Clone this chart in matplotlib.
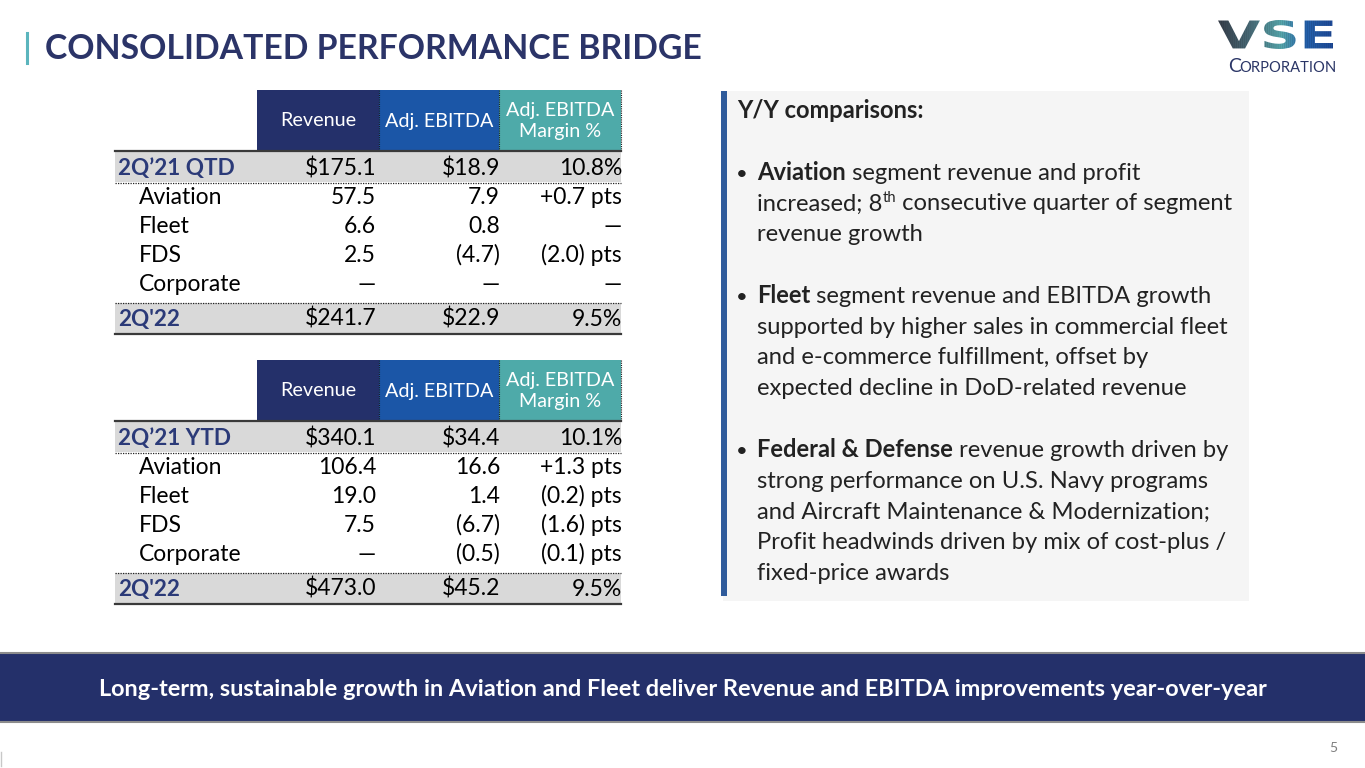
import numpy as np
import matplotlib.pyplot as plt
from matplotlib.textpath import TextPath
from matplotlib.font_manager import FontProperties
from matplotlib.patches import PathPatch
from matplotlib.transforms import Affine2D

plt.rcParams['font.family'] = ['Lato', 'DejaVu Sans']

# ---- data ----
col_headers = ["Revenue", "Adj. EBITDA", "Adj. EBITDA\nMargin %"]

qtd_labels = ["2Q\u201921 QTD", "Aviation", "Fleet", "FDS", "Corporate", "2Q'22"]
qtd_revenue = ["$175.1", "57.5", "6.6", "2.5", "\u2014", "$241.7"]
qtd_ebitda = ["$18.9", "7.9", "0.8", "(4.7)", "\u2014", "$22.9"]
qtd_margin = ["10.8%", "+0.7 pts", "\u2014", "(2.0) pts", "\u2014", "9.5%"]

ytd_labels = ["2Q\u201921 YTD", "Aviation", "Fleet", "FDS", "Corporate", "2Q'22"]
ytd_revenue = ["$340.1", "106.4", "19.0", "7.5", "\u2014", "$473.0"]
ytd_ebitda = ["$34.4", "16.6", "1.4", "(6.7)", "(0.5)", "$45.2"]
ytd_margin = ["10.1%", "+1.3 pts", "(0.2) pts", "(1.6) pts", "(0.1) pts", "9.5%"]

panel_lines = [
    [("Y/Y comparisons:", "bold")],
    [],
    [("Aviation", "bold"), (" segment revenue and profit", "normal")],
    [("increased; 8", "normal"), ("th", "sup"), (" consecutive quarter of segment", "normal")],
    [("revenue growth", "normal")],
    [],
    [("Fleet", "bold"), (" segment revenue and EBITDA growth", "normal")],
    [("supported by higher sales in commercial fleet", "normal")],
    [("and e-commerce fulfillment, offset by", "normal")],
    [("expected decline in DoD-related revenue", "normal")],
    [],
    [("Federal & Defense", "bold"), (" revenue growth", "normal"), (" driven by", "normal")],
    [("strong performance on U.S. Navy programs", "normal")],
    [("and Aircraft Maintenance & Modernization;", "normal")],
    [("Profit headwinds driven by mix of cost-plus /", "normal")],
    [("fixed-price awards", "normal")],
]
bullet_lines = [2, 6, 11]

title = "CONSOLIDATED PERFORMANCE BRIDGE"
banner = "Long-term, sustainable growth in Aviation and Fleet deliver Revenue and EBITDA improvements year-over-year"

NAVY = "#24306a"
BLUE = "#1b56a7"
TEAL = "#4eaaa9"
LABEL_NAVY = "#2b3a78"
GRAY_ROW = "#d9d9d9"

fig = plt.figure(figsize=(13.65, 7.68), dpi=100)
ax = fig.add_axes([0, 0, 1, 1])
ax.set_xlim(0, 1365)
ax.set_ylim(768, 0)
ax.axis('off')
renderer = fig.canvas.get_renderer()


def text_width(s, size, weight):
    # width in pixels, spaces included
    t1 = ax.text(0, 0, "x" + s + "x", fontsize=size, fontweight=weight)
    t2 = ax.text(0, 0, "xx", fontsize=size, fontweight=weight)
    w = t1.get_window_extent(renderer).width - t2.get_window_extent(renderer).width
    t1.remove()
    t2.remove()
    return w


def rect(x0, y0, x1, y1, color, z=1):
    ax.fill_between([x0, x1], y0, y1, color=color, lw=0, zorder=z)


# ---- title ----
ax.plot([26.5, 26.5], [33, 63], color="#5bb5bd", lw=2.2)
ax.text(45, 59, title, fontsize=24.3, fontweight='bold', color="#2b3468", va='baseline')

# ---- logo ----
fp = FontProperties(family='DejaVu Sans', weight='bold')
logo_path = TextPath((0, 0), "VSE", prop=fp, size=10)
ext = logo_path.get_extents()
sx = (1333 - 1218) / ext.width
sy = (49 - 20) / ext.height
tr = Affine2D().translate(-ext.x0, -ext.y0).scale(sx, -sy).translate(1218, 49) + ax.transData
patch = PathPatch(logo_path, transform=tr, facecolor='none', edgecolor='none')
ax.add_patch(patch)
gx = np.linspace(0, 1, 240)
base_r = np.interp(gx, [0, 0.3, 0.55, 0.75, 1], [0.22, 0.30, 0.35, 0.15, 0.12])
base_g = np.interp(gx, [0, 0.3, 0.55, 0.75, 1], [0.25, 0.45, 0.68, 0.40, 0.30])
base_b = np.interp(gx, [0, 0.3, 0.55, 0.75, 1], [0.30, 0.50, 0.70, 0.70, 0.62])
stripe = 0.85 + 0.15 * (np.arange(240) % 4 < 2)
img = np.stack([base_r * stripe, base_g * stripe, base_b * stripe], axis=-1)[None, :, :]
im = ax.imshow(img, extent=[1218, 1333, 49, 20], aspect='auto', zorder=3)
im.set_clip_path(patch)
ax.text(1228, 72, "C", fontsize=14, color="#2a3566", va='baseline')
ax.text(1239, 72, "ORPORATION", fontsize=10.6, color="#2a3566", va='baseline')
ax.set_xlim(0, 1365)
ax.set_ylim(768, 0)


# ---- tables ----
def draw_table(top, labels, rev, ebit, marg):
    hx = [257, 379, 499, 621]
    hcols = [NAVY, BLUE, TEAL]
    for i in range(3):
        rect(hx[i], top, hx[i + 1], top + 60, hcols[i])
        ax.text((hx[i] + hx[i + 1]) / 2, top + 31, col_headers[i], fontsize=14.2, color='white',
                ha='center', va='center', linespacing=1.25)
    for xx in hx[1:]:
        ax.plot([xx, xx], [top, top + 60], color="#1a1a1a", lw=0.8, ls=(0, (1, 1)), zorder=2)
    row_y = [top + 77, top + 106, top + 135, top + 164, top + 193, top + 228]
    rect(115, top + 61, 621, top + 92, GRAY_ROW)
    rect(115, top + 213, 621, top + 243, GRAY_ROW)
    ax.plot([115, 621], [top + 60.5, top + 60.5], color="#3a3a3a", lw=1.6)
    ax.plot([115, 621], [top + 244, top + 244], color="#3a3a3a", lw=1.6)
    ax.plot([115, 621], [top + 93, top + 93], color="#222222", lw=0.9, ls=(0, (1, 1)))
    ax.plot([115, 621], [top + 213, top + 213], color="#222222", lw=0.9, ls=(0, (1, 1)))
    right = [376, 500, 622]
    for r in range(len(labels)):
        yb = row_y[r] + 8
        bold = r in (0, len(labels) - 1)
        if bold:
            ax.text(118, yb, labels[r], fontsize=16.2, fontweight='bold', color=LABEL_NAVY, va='baseline')
        else:
            ax.text(139, yb, labels[r], fontsize=16.5, color='black', va='baseline')
        for c, vals in enumerate([rev, ebit, marg]):
            ax.text(right[c], yb, vals[r], fontsize=16.5, color='black', ha='right', va='baseline')


draw_table(90, qtd_labels, qtd_revenue, qtd_ebitda, qtd_margin)
draw_table(360, ytd_labels, ytd_revenue, ytd_ebitda, ytd_margin)

# ---- right panel ----
rect(723, 91, 1249, 601, "#f5f5f5", z=0)
rect(721, 91, 727, 596, "#2f5b9b", z=1)
size = 17.1
for i, line in enumerate(panel_lines):
    yb = 118 + i * 30.8
    x = 757
    if i == 0:
        x = 737
    if i in bullet_lines:
        ax.text(736, yb, "\u2022", fontsize=size * 0.85, color="#222222", va='baseline')
    for s, w in line:
        if w == "sup":
            ax.text(x, yb - 8, s, fontsize=size * 0.62, color="#222222", va='baseline')
            x += text_width(s, size * 0.62, 'normal')
        else:
            ax.text(x, yb, s, fontsize=size, fontweight=w, color="#222222", va='baseline')
            x += text_width(s, size, w)

# ---- bottom banner ----
rect(0, 653, 1365, 722, NAVY)
ax.plot([0, 1365], [653, 653], color="#8c8c8c", lw=1.5)
ax.plot([0, 1365], [722, 722], color="#8c8c8c", lw=1.5)
ax.text(683, 690, banner, fontsize=16.9, fontweight='bold', color='white', ha='center', va='center')

ax.text(1333, 752, "5", fontsize=10, color="#7f7f7f", ha='center', va='baseline')
ax.plot([1, 1], [752, 766], color="#c8c8c8", lw=1)

fig.savefig("out.png", dpi=100)
